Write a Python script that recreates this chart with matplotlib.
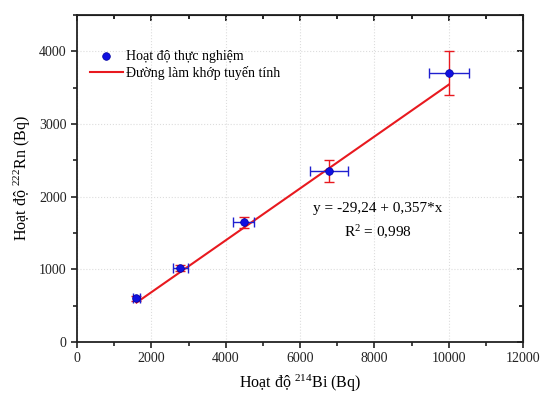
import matplotlib.pyplot as plt
import numpy as np
from matplotlib.ticker import MultipleLocator

plt.rcParams['font.family'] = ['Liberation Serif', 'DejaVu Serif']
plt.rcParams['mathtext.fontset'] = 'custom'
plt.rcParams['mathtext.rm'] = 'Liberation Serif'
plt.rcParams['mathtext.it'] = 'Liberation Serif:italic'

bi = np.array([1600, 2780, 4480, 6780, 10000])
rn = np.array([600, 1020, 1645, 2355, 3700])
bi_err = np.array([100, 200, 290, 500, 540])
rn_err = np.array([30, 40, 70, 150, 300])
intercept = -29.24
slope = 0.357
fit_x = np.array([1600, 10000])

fig = plt.figure(figsize=(5.43, 3.96), dpi=100)
ax = fig.add_axes([77/543, 1-342/396, 446/543, 327/396])

fit_y = intercept + slope*fit_x
ax.plot(fit_x, fit_y, color='#e8191f', lw=1.5, label='Đường làm khớp tuyến tính', zorder=2)
ax.errorbar(bi, rn, yerr=rn_err, fmt='none', ecolor='#e8191f', elinewidth=1, capsize=3.5, zorder=3)
ax.errorbar(bi, rn, xerr=bi_err, fmt='none', ecolor='#2020d0', elinewidth=1, capsize=3.5, zorder=3)
ax.plot(bi, rn, 'o', color='#1010e0', ms=5.5, mec='#0000a0', mew=0.5, label='Hoạt độ thực nghiệm', zorder=4)

ax.set_xlim(0, 12000)
ax.set_ylim(0, 4500)
ax.xaxis.set_major_locator(MultipleLocator(2000))
ax.xaxis.set_minor_locator(MultipleLocator(1000))
ax.yaxis.set_major_locator(MultipleLocator(1000))
ax.yaxis.set_minor_locator(MultipleLocator(500))
ax.tick_params(which='both', direction='out', labelsize=10, width=1.2, colors='#222222')
ax.tick_params(which='major', length=4)
ax.tick_params(which='minor', length=3)
ax.grid(True, which='major', color='#dddddd', ls=':', lw=0.8)
for s in ax.spines.values():
    s.set_linewidth(1.3)
    s.set_color('#222222')

top = ax.secondary_xaxis('top')
top.xaxis.set_major_locator(MultipleLocator(2000))
top.xaxis.set_minor_locator(MultipleLocator(1000))
top.tick_params(which='both', direction='in', labeltop=False, width=1.2)
top.tick_params(which='major', length=4)
top.tick_params(which='minor', length=3)
right = ax.secondary_yaxis('right')
right.yaxis.set_major_locator(MultipleLocator(1000))
right.yaxis.set_minor_locator(MultipleLocator(500))
right.tick_params(which='both', direction='in', labelright=False, width=1.2)
right.tick_params(which='major', length=4)
right.tick_params(which='minor', length=3)

ax.set_xlabel('Hoạt độ $^{214}$Bi (Bq)', fontsize=11.5, labelpad=5)
ax.set_ylabel('Hoạt độ $^{222}$Rn (Bq)', fontsize=11.5, labelpad=4)

ax.text(8100, 1840, 'y = -29,24 + 0,357*x', fontsize=11, ha='center', va='center')
ax.text(8100, 1510, 'R$^2$ = 0,998', fontsize=11, ha='center', va='center')

h, l = ax.get_legend_handles_labels()
ax.legend(h[::-1], l[::-1], loc='upper left', bbox_to_anchor=(0.0, 0.93), frameon=False,
          fontsize=10, handlelength=2.4, borderaxespad=0.5, labelspacing=0.2, handletextpad=0.2)

fig.savefig('out.png', dpi=100)
